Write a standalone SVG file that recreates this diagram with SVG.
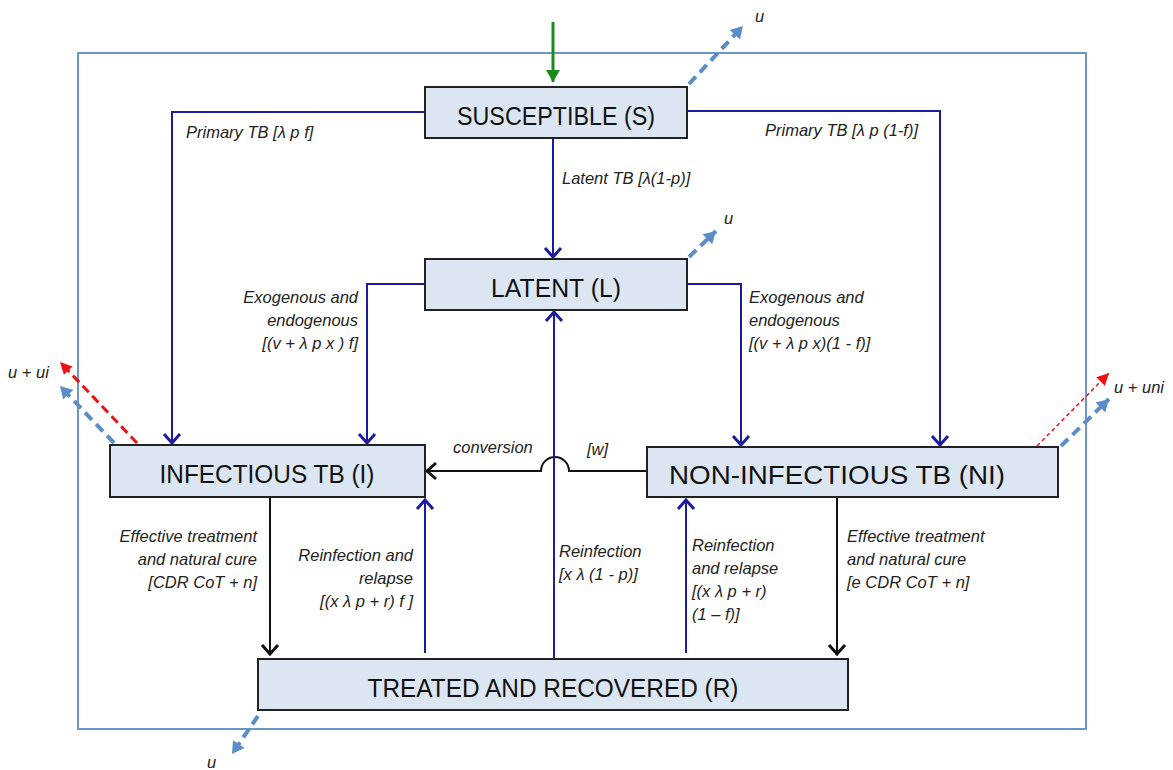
<svg xmlns="http://www.w3.org/2000/svg" width="1173" height="770" viewBox="0 0 1173 770">
<style>
.box{fill:#dce6f2;stroke:#222;stroke-width:2}
.bt{font-family:"Liberation Sans",Arial,sans-serif;font-size:26px;fill:#111;text-anchor:middle}
.lb{font-family:"Liberation Sans",Arial,sans-serif;font-size:16.5px;font-style:italic;fill:#222}
.r{text-anchor:end}
.navy{fill:none;stroke:#1c1ca0;stroke-width:2;marker-end:url(#chevN)}
.blk{fill:none;stroke:#111;stroke-width:2}
.bd{fill:none;stroke:#5b8dc8;stroke-width:4;stroke-dasharray:10,6;marker-end:url(#triB)}
.rd{fill:none;stroke:#ee1111;stroke-width:3;stroke-dasharray:9,5;marker-end:url(#triR)}
.rdt{fill:none;stroke:#ee1111;stroke-width:1.5;stroke-dasharray:4,3;marker-end:url(#triR)}
</style>
<defs>
<marker id="chevN" markerUnits="userSpaceOnUse" viewBox="-12 -10 14 20" markerWidth="14" markerHeight="20" refX="0" refY="0" orient="auto" overflow="visible"><path d="M-9,-8 L0,0 L-9,8" fill="none" stroke="#1c1ca0" stroke-width="3"/></marker>
<marker id="chevK" markerUnits="userSpaceOnUse" viewBox="-12 -10 14 20" markerWidth="14" markerHeight="20" refX="0" refY="0" orient="auto" overflow="visible"><path d="M-9,-8 L0,0 L-9,8" fill="none" stroke="#111" stroke-width="3"/></marker>
<marker id="triB" markerUnits="userSpaceOnUse" viewBox="-14 -8 16 16" markerWidth="16" markerHeight="16" refX="0" refY="0" orient="auto" overflow="visible"><path d="M-12,-7 L0,0 L-12,7 Z" fill="#5b8dc8"/></marker>
<marker id="triR" markerUnits="userSpaceOnUse" viewBox="-14 -8 16 16" markerWidth="16" markerHeight="16" refX="0" refY="0" orient="auto" overflow="visible"><path d="M-12,-6 L0,0 L-12,6 Z" fill="#ee1111"/></marker>
<marker id="triG" markerUnits="userSpaceOnUse" viewBox="-14 -8 16 16" markerWidth="16" markerHeight="16" refX="0" refY="0" orient="auto" overflow="visible"><path d="M-12,-7 L0,0 L-12,7 Z" fill="#1a8a1a"/></marker>
</defs>
<rect width="1173" height="770" fill="#fff"/>
<rect id="frame" x="78" y="53" width="1008" height="676" fill="none" stroke="#6b96cc" stroke-width="2"/>
<g id="connectors">
<line x1="553" y1="22" x2="553" y2="82" stroke="#1a8a1a" stroke-width="3" marker-end="url(#triG)"/>
<line class="bd" x1="689" y1="84" x2="743" y2="26"/>
<line class="bd" x1="689" y1="257" x2="716" y2="231"/>
<line class="navy" x1="553" y1="138" x2="553" y2="257"/>
<polyline class="navy" points="425,112 172,112 172,443"/>
<polyline class="navy" points="687,111 940,111 940,445"/>
<polyline class="navy" points="425,284 367,284 367,443"/>
<polyline class="navy" points="687,284 741,284 741,445"/>
<path class="blk" d="M647,471 L569,471 A14,14 0 0 0 541,471 L427,471" marker-end="url(#chevK)"/>
<line class="navy" x1="554" y1="659" x2="554" y2="312"/>
<line class="navy" x1="425" y1="653" x2="425" y2="500"/>
<line class="navy" x1="686" y1="653" x2="686" y2="500"/>
<line class="blk" x1="270" y1="497" x2="270" y2="654" marker-end="url(#chevK)"/>
<line class="blk" x1="837" y1="497" x2="837" y2="654" marker-end="url(#chevK)"/>
<line class="bd" x1="258" y1="716" x2="232" y2="754"/>
<line class="rd" x1="137" y1="443" x2="60" y2="362"/>
<line class="bd" x1="114" y1="443" x2="60" y2="386"/>
<line class="rdt" x1="1037" y1="446" x2="1109" y2="373"/>
<line class="bd" x1="1061" y1="446" x2="1109" y2="399"/>
</g>
<g id="labels">
<text class="lb" x="755" y="22">u</text>
<text class="lb" x="724" y="224">u</text>
<text class="lb" x="207" y="768">u</text>
<text class="lb" x="8" y="378">u + ui</text>
<text class="lb" x="1114" y="393">u + uni</text>
<text class="lb" x="562" y="184">Latent TB [λ(1-p)]</text>
<text class="lb" x="186" y="138">Primary TB [λ p f]</text>
<text class="lb r" x="918" y="136">Primary TB [λ p (1-f)]</text>
<text class="lb r" x="358" y="303">Exogenous and</text>
<text class="lb r" x="358" y="326">endogenous</text>
<text class="lb r" x="358" y="349">[(v + λ p x ) f]</text>
<text class="lb" x="749" y="303">Exogenous and</text>
<text class="lb" x="749" y="326">endogenous</text>
<text class="lb" x="749" y="349">[(v + λ p x)(1 - f)]</text>
<text class="lb" x="453" y="453">conversion</text>
<text class="lb" x="587" y="455">[w]</text>
<text class="lb r" x="257" y="542">Effective treatment</text>
<text class="lb r" x="257" y="565">and natural cure</text>
<text class="lb r" x="257" y="588">[CDR CoT + n]</text>
<text class="lb" x="847" y="542">Effective treatment</text>
<text class="lb" x="847" y="565">and natural cure</text>
<text class="lb" x="847" y="588">[e CDR CoT + n]</text>
<text class="lb r" x="413" y="561">Reinfection and</text>
<text class="lb r" x="413" y="584">relapse</text>
<text class="lb r" x="413" y="607">[(x λ p + r) f ]</text>
<text class="lb" x="559" y="557">Reinfection</text>
<text class="lb" x="559" y="580">[x λ (1 - p)]</text>
<text class="lb" x="692" y="551">Reinfection</text>
<text class="lb" x="692" y="574">and relapse</text>
<text class="lb" x="692" y="597">[(x λ p + r)</text>
<text class="lb" x="692" y="620">(1 – f)]</text>
</g>
<g id="S"><rect class="box" x="425" y="87" width="262" height="51"/><text class="bt" x="556" y="125" textLength="198" lengthAdjust="spacingAndGlyphs">SUSCEPTIBLE (S)</text></g>
<g id="L"><rect class="box" x="425" y="259" width="262" height="51"/><text class="bt" x="556" y="297" textLength="130" lengthAdjust="spacingAndGlyphs">LATENT (L)</text></g>
<g id="I"><rect class="box" x="110" y="445" width="315" height="52"/><text class="bt" x="267" y="483" textLength="215" lengthAdjust="spacingAndGlyphs">INFECTIOUS TB (I)</text></g>
<g id="NI"><rect class="box" x="647" y="447" width="411" height="50"/><text class="bt" x="837" y="484" textLength="336" lengthAdjust="spacingAndGlyphs">NON-INFECTIOUS TB (NI)</text></g>
<g id="R"><rect class="box" x="258" y="659" width="590" height="51"/><text class="bt" x="553" y="697" textLength="371" lengthAdjust="spacingAndGlyphs">TREATED AND RECOVERED (R)</text></g>
</svg>
